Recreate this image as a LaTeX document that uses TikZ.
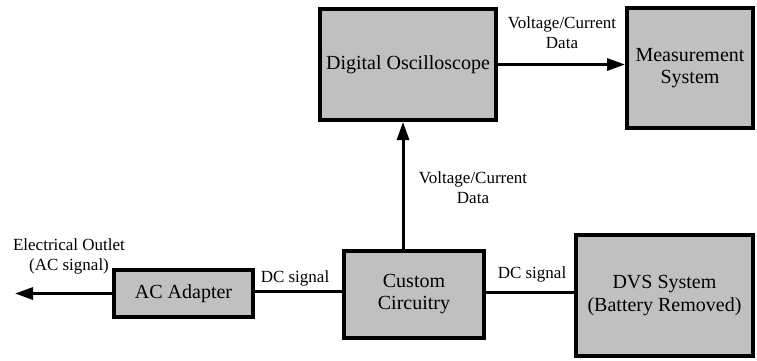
\documentclass[tikz,border=0pt]{standalone}
\usepackage{fontspec}
\newfontfamily\timesfont{LiberationSerif}[Extension=.ttf, UprightFont=*-Regular]
\usetikzlibrary{arrows.meta}
\definecolor{boxgray}{HTML}{C0C0C0}
\tikzset{
  blk/.style={draw=black, line width=4pt, fill=boxgray, inner sep=0pt, align=center,
    font=\timesfont\fontsize{20}{22}\selectfont},
  lbl/.style={align=center, inner sep=0pt, font=\timesfont\fontsize{17}{20}\selectfont},
  conn/.style={line width=3pt},
  arr/.style={conn, -{Triangle[length=18pt,width=12pt]}}
}
\begin{document}
\begin{tikzpicture}[x=1pt,y=-1pt]
\useasboundingbox (0,0) rectangle (757,360);
\node[blk, minimum width=176pt, minimum height=111pt] (osc) at (408,64.5) {Digital Oscilloscope};
\node[blk, minimum width=126pt, minimum height=120pt] (meas) at (690,68) {Measurement\\System};
\node[blk, minimum width=139pt, minimum height=47pt] (ac) at (183.5,293.5) {AC Adapter};
\node[blk, minimum width=140pt, minimum height=87pt] (cust) at (414,294.5) {Custom\\Circuitry};
\node[blk, minimum width=177pt, minimum height=121pt] (dvs) at (664.5,295.5) {\raisebox{-6pt}{\shortstack{DVS System\\[2pt](Battery Removed)}}};
\coordinate (outlet) at (15,295);
% connectors
\draw[arr] (osc.east) -- (osc.east -| meas.west);
\draw[arr] ([xshift=-11pt]cust.north) -- ([xshift=-11pt]cust.north |- osc.south);
\draw[conn] ([yshift=3pt]cust.west) -- ([yshift=3pt]cust.west -| ac.east);
\draw[conn] ([yshift=2pt]cust.east) -- ([yshift=2pt]cust.east -| dvs.west);
\draw[arr] (ac.west) -- (ac.west -| outlet);
% labels
\node[lbl] (l1) at (562,33) {Voltage/Current\\Data};
\node[lbl] (l2) at (473,188) {Voltage/Current\\Data};
\node[lbl] (l3) at (295,278) {DC signal};
\node[lbl] (l4) at (532,274) {DC signal};
\node[lbl] (l5) at (69,256) {Electrical Outlet\\(AC signal)};
\end{tikzpicture}
\end{document}
